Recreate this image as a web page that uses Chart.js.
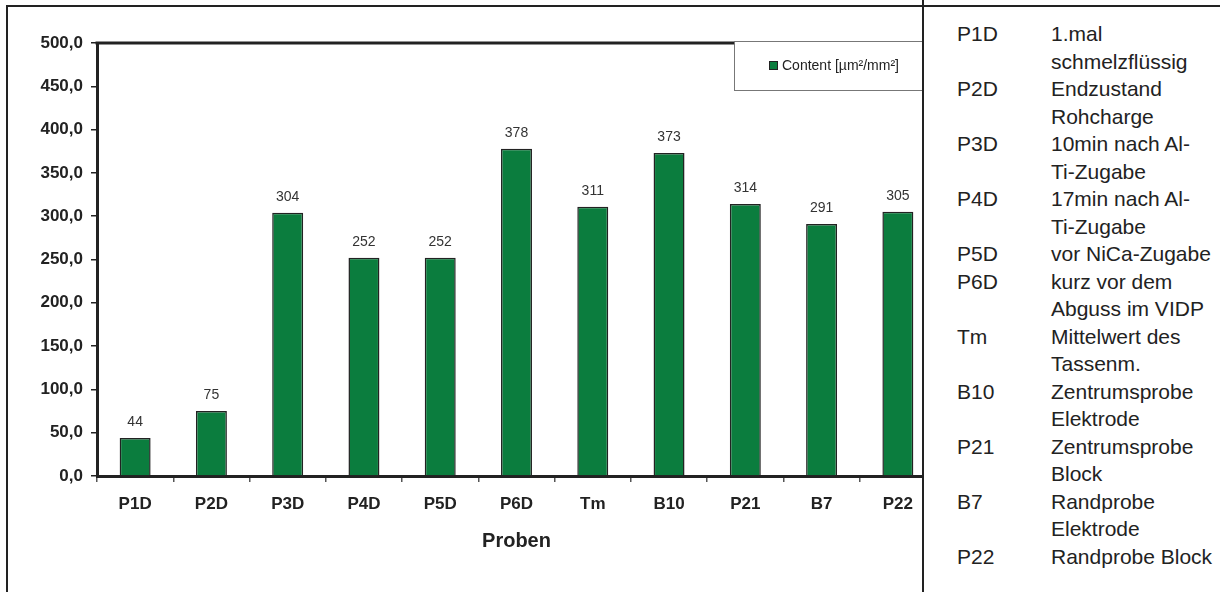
<!DOCTYPE html>
<html>
<head>
<meta charset="utf-8">
<script src="https://cdn.jsdelivr.net/npm/chart.js@4/dist/chart.umd.min.js"></script>
<style>
  body { margin: 0; background: #fff; font-family: 'Liberation Sans', Arial, sans-serif; }
  #wrap { position: relative; width: 1220px; height: 592px; overflow: hidden; }
  #grafico { position: absolute; left: 0; top: 0; }
  #rahmen { position: absolute; left: 6px; top: 5px; width: 1300px; height: 700px;
            border-left: 2.5px solid #222; border-top: 2.5px solid #222; z-index: 3; }
  #legende { position: absolute; left: 922px; top: 0; width: 298px; height: 592px;
             background: #fff; border-left: 2px solid #222; z-index: 2; }
  #zeilen { position: absolute; left: 33px; top: 20px; color: #222; font-size: 21px; line-height: 27.5px; }
  .zeile { display: flex; white-space: nowrap; }
  .kurz { width: 94px; }
</style>
</head>
<body>
<div id="wrap">
  <canvas id="grafico" width="1220" height="592"></canvas>
  <div id="legende"><div id="zeilen"></div></div>
  <div id="rahmen"></div>
</div>
<script>
// Daten
const proben = ['P1D', 'P2D', 'P3D', 'P4D', 'P5D', 'P6D', 'Tm', 'B10', 'P21', 'B7', 'P22'];
const gehalt = [44, 75, 304, 252, 252, 378, 311, 373, 314, 291, 305];
const yTicks = [0, 50, 100, 150, 200, 250, 300, 350, 400, 450, 500];
const serienName = 'Content [µm²/mm²]';
const achsenTitel = 'Proben';

// Erklärung der Abkürzungen (rechte Tabelle)
const kuerzel = ['P1D', 'P2D', 'P3D', 'P4D', 'P5D', 'P6D', 'Tm', 'B10', 'P21', 'B7', 'P22'];
const beschreibung = [
    ['1.mal', 'schmelzflüssig'],
    ['Endzustand', 'Rohcharge'],
    ['10min nach Al-', 'Ti-Zugabe'],
    ['17min nach Al-', 'Ti-Zugabe'],
    ['vor NiCa-Zugabe'],
    ['kurz vor dem', 'Abguss im VIDP'],
    ['Mittelwert des', 'Tassenm.'],
    ['Zentrumsprobe', 'Elektrode'],
    ['Zentrumsprobe', 'Block'],
    ['Randprobe', 'Elektrode'],
    ['Randprobe Block']
];

const zeilen = document.getElementById('zeilen');
kuerzel.forEach((k, i) => {
    const z = document.createElement('div');
    z.className = 'zeile';
    const a = document.createElement('div');
    a.className = 'kurz';
    a.textContent = k;
    const b = document.createElement('div');
    b.innerHTML = beschreibung[i].join('<br>');
    z.appendChild(a);
    z.appendChild(b);
    zeilen.appendChild(z);
});

const schrift = "'Liberation Sans', Arial, sans-serif";

// Werte über den Balken
const wertePlugin = {
    id: 'werte',
    afterDatasetsDraw(chart) {
        const ctx = chart.ctx;
        const meta = chart.getDatasetMeta(0);
        ctx.save();
        ctx.font = '14px ' + schrift;
        ctx.fillStyle = '#333';
        ctx.textAlign = 'center';
        ctx.textBaseline = 'middle';
        meta.data.forEach((bar, i) => {
            ctx.fillText(String(chart.data.datasets[0].data[i]), bar.x, bar.y - 16);
        });
        ctx.restore();
    }
};

// obere Begrenzung der Zeichenfläche und Legendenkasten
const rahmenPlugin = {
    id: 'rahmen',
    afterDraw(chart) {
        const ctx = chart.ctx;
        const a = chart.chartArea;
        ctx.save();
        ctx.strokeStyle = '#222';
        ctx.lineWidth = 3;
        ctx.beginPath();
        ctx.moveTo(a.left - 1.5, a.top);
        ctx.lineTo(a.right, a.top);
        ctx.stroke();

        // Legende
        ctx.fillStyle = '#fff';
        ctx.fillRect(734, 41, 200, 49);
        ctx.strokeStyle = '#777';
        ctx.lineWidth = 1;
        ctx.strokeRect(734.5, 41.5, 200, 49);
        ctx.fillStyle = chart.data.datasets[0].backgroundColor;
        ctx.fillRect(769, 61, 9, 9);
        ctx.strokeStyle = '#222';
        ctx.strokeRect(769.5, 61.5, 8, 8);
        ctx.fillStyle = '#222';
        ctx.font = '14px ' + schrift;
        ctx.textBaseline = 'middle';
        ctx.textAlign = 'left';
        ctx.fillText(chart.data.datasets[0].label, 782, 66);
        ctx.restore();
    }
};

const ctx = document.getElementById('grafico').getContext('2d');
new Chart(ctx, {
    type: 'bar',
    data: {
        labels: proben,
        datasets: [{
            label: serienName,
            data: gehalt,
            backgroundColor: '#0b7d3e',
            borderColor: '#222',
            borderWidth: 1.5,
            categoryPercentage: 1,
            barPercentage: 0.406
        }]
    },
    options: {
        responsive: false,
        animation: false,
        devicePixelRatio: 1,
        layout: { padding: { left: 0, top: 43, right: 1220 - 936, bottom: 0 } },
        plugins: {
            legend: { display: false },
            tooltip: { enabled: false }
        },
        scales: {
            x: {
                grid: { offset: true, drawOnChartArea: false, drawTicks: true, tickLength: 6, color: '#555', lineWidth: 1.5 },
                border: { display: true, color: '#222', width: 3 },
                ticks: { color: '#222', font: { family: schrift, size: 17, weight: 'bold' }, padding: 12, maxRotation: 0, autoSkip: false },
                title: { display: true, text: achsenTitel, color: '#222', font: { family: schrift, size: 20, weight: 'bold' }, padding: { top: 0, bottom: 39 } },
                afterFit(scale) { scale.height = 116; }
            },
            y: {
                min: 0,
                max: 500,
                afterBuildTicks(scale) { scale.ticks = yTicks.map(v => ({ value: v })); },
                grid: { drawOnChartArea: false, drawTicks: true, tickLength: 6, color: '#222', lineWidth: 1.5 },
                border: { display: true, color: '#222', width: 3 },
                ticks: {
                    color: '#222',
                    font: { family: schrift, size: 17, weight: 'bold' },
                    padding: 8,
                    callback: v => v.toFixed(1).replace('.', ',')
                },
                afterFit(scale) { scale.width = 97; }
            }
        }
    },
    plugins: [wertePlugin, rahmenPlugin]
});
</script>
</body>
</html>
